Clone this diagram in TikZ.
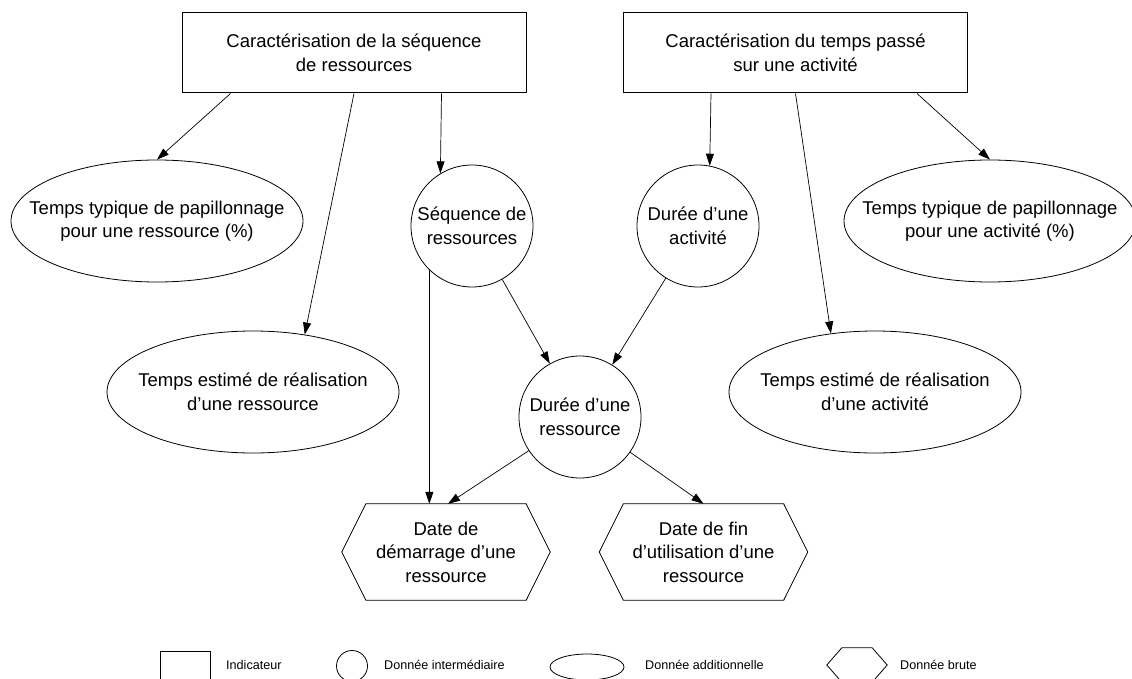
\documentclass[tikz,border=0pt]{standalone}
\usepackage{fontspec}
\setmainfont{Liberation Sans}
\usetikzlibrary{arrows.meta,shapes.geometric}
\newcommand\drawhexa[2]{%
  \draw[line width=0.8pt] (#1.west) -- ([xshift=#2]#1.north west) -- ([xshift=-#2]#1.north east) -- (#1.east) -- ([xshift=-#2]#1.south east) -- ([xshift=#2]#1.south west) -- cycle;}
\begin{document}
\begin{tikzpicture}[x=1pt,y=-1pt,
  every node/.style={font=\fontsize{18.5}{23.5}\selectfont, align=center, inner sep=0pt},
  ind/.style={draw, line width=1pt, minimum width=344pt, minimum height=80pt},
  inter/.style={draw, circle, line width=0.8pt, minimum size=122pt},
  addi/.style={draw, ellipse, line width=0.8pt, minimum width=292pt, minimum height=122pt},
  brute/.style={minimum width=208pt, minimum height=96pt},
  arr/.style={-{Triangle[length=12pt,width=8pt]}, line width=0.7pt},
  leg/.style={font=\fontsize{12.6}{15}\selectfont, anchor=west}
]
\clip (0,0) rectangle (1132,679);
\fill[white] (0,0) rectangle (1132,679);

\node[ind] (b1) at (354,53) {Caractérisation de la séquence\\de ressources};
\node[ind] (b2) at (795.5,53) {Caractérisation du temps passé\\sur une activité};

\node[addi] (e1) at (157,221) {};
\node (e1t) at (e1) {Temps typique de papillonnage\\pour une ressource (\%)};
\node[addi] (e2) at (253,392) {};
\node (e2t) at (e2) {Temps estimé de réalisation\\d’une ressource};
\node[addi] (e3) at (990,221) {};
\node (e3t) at (e3) {Temps typique de papillonnage\\pour une activité (\%)};
\node[addi] (e4) at (875,392) {};
\node (e4t) at (e4) {Temps estimé de réalisation\\d’une activité};

\node[inter] (seq) at (472,226) {Séquence de\\ressources};
\node[inter] (act) at (698,226) {Durée d’une\\activité};
\node[inter] (dr) at (580,417) {Durée d’une\\ressource};

\node[brute] (h1) at (446,552) {Date de\\démarrage d’une\\ressource};
\node[brute] (h2) at (703.5,552) {Date de fin\\d’utilisation d’une\\ressource};
\drawhexa{h1}{24pt}
\drawhexa{h2}{24pt}

\coordinate (b1a) at ([xshift=49pt]b1.south west);
\coordinate (b1c) at ([xshift=260pt]b1.south west);
\coordinate (b2a) at ([xshift=88pt]b2.south west);
\coordinate (b2c) at ([xshift=294pt]b2.south west);

\draw[arr] (b1a) -- (e1.north);
\draw[arr] (b1.south) -- (e2.48);
\draw[arr] (b1c) -- (seq.121);
\draw[arr] (b2a) -- (act.79);
\draw[arr] (b2.south) -- (e4.127);
\draw[arr] (b2c) -- (e3.north);

\draw[arr] (seq) -- (dr);
\draw[arr] (act) -- (dr);
\coordinate (s1) at (428,0);
\draw[arr] (seq.226) -- (seq.226 |- h1.north);
\draw[arr] (dr) -- ([xshift=2pt]h1.north);
\draw[arr] (dr) -- (h2.north);

% legend
\node[draw, line width=0.8pt, minimum width=50pt, minimum height=50pt] (lg1) at (185,676) {};
\node[leg] (lt1) at (226,665) {Indicateur};
\node[draw, circle, line width=0.8pt, minimum size=31pt] (lg2) at (352,666) {};
\node[leg] (lt2) at (384,665) {Donnée intermédiaire};
\node[draw, ellipse, line width=0.8pt, minimum width=74pt, minimum height=26pt] (lg3) at (587,667) {};
\node[leg] (lt3) at (645,665) {Donnée additionnelle};
\node[minimum width=60pt, minimum height=34pt] (lg4) at (857,665) {};
\drawhexa{lg4}{15pt}
\node[leg] (lt4) at (900,665) {Donnée brute};
\end{tikzpicture}
\end{document}
